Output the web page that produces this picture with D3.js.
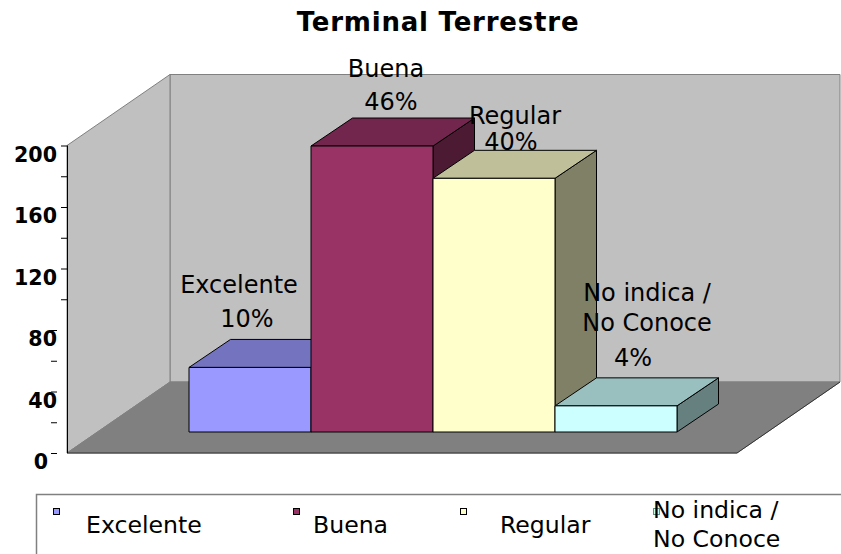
<!DOCTYPE html>
<html>
<head>
<meta charset="utf-8">
<script src="https://cdn.jsdelivr.net/npm/d3@7"></script>
<style>
    html, body { margin: 0; padding: 0; background: #fff; overflow: hidden; }
    svg { display: block; }
    text { font-family: "DejaVu Sans", sans-serif; fill: #000; }
</style>
</head>
<body>
<div id="chart"></div>
<script>
// Data
var categories = ["Excelente", "Buena", "Regular", "No indica / No Conoce"];
var values = [42, 186, 165, 17];
var percents = ["10%", "46%", "40%", "4%"];
var tickValues = [0, 20, 40, 60, 80, 100, 120, 140, 160, 180, 200];
var labelledTicks = [0, 40, 80, 120, 160, 200];
var title = "Terminal Terrestre";

var colors = ["#9999ff", "#993366", "#ffffcc", "#ccffff"];

var width = 841, height = 554;

var svg = d3.select("#chart").append("svg")
    .attr("width", width)
    .attr("height", height);

var polyLine = d3.line();

// Box geometry
var axisX = 67;
var wallX = 170;
var wallDepth = 71;
var floorRight = 737;

var y = d3.scaleLinear().domain([0, 200]).range([453, 145.5]);

// Bars sit on the floor, a little behind the front edge
var barBase = 432;
var barDx = 41.5, barDy = 28;
var x = d3.scaleBand().domain(categories).range([189, 677]);

function barHeight(v) { return y(0) - y(v); }

function shade(c, k) {
    var r = d3.rgb(c);
    return d3.rgb(r.r * k, r.g * k, r.b * k).formatHex();
}

// Walls and floor
var box = svg.append("g");
var wallRight = wallX + (floorRight - axisX);

box.append("path")
    .attr("d", polyLine([[wallX, y(200) - wallDepth], [wallRight, y(200) - wallDepth], [wallRight, y(0) - wallDepth], [wallX, y(0) - wallDepth]]) + "Z")
    .attr("fill", "#c0c0c0")
    .attr("stroke", "#808080");

box.append("path")
    .attr("d", polyLine([[axisX, y(200)], [wallX, y(200) - wallDepth], [wallX, y(0) - wallDepth], [axisX, y(0)]]) + "Z")
    .attr("fill", "#c0c0c0")
    .attr("stroke", "#808080");

box.append("path")
    .attr("d", polyLine([[axisX, y(0)], [wallX, y(0) - wallDepth], [wallRight, y(0) - wallDepth], [floorRight, y(0)]]) + "Z")
    .attr("fill", "#808080")
    .attr("stroke", "#808080");

box.append("path")
    .attr("d", polyLine([[axisX, y(0)], [floorRight, y(0)], [wallRight, y(0) - wallDepth]]))
    .attr("fill", "none")
    .attr("stroke", "#333");

// Bars, left to right so that each one hides the side of the previous one
var bars = svg.append("g").selectAll("g")
    .data(categories)
    .enter()
    .append("g")
    .attr("stroke", "#000")
    .attr("stroke-linejoin", "round");

bars.append("path")
    .attr("fill", function (d, i) { return shade(colors[i], 0.5); })
    .attr("d", function (d, i) {
        var r = x(d) + x.bandwidth(), t = barBase - barHeight(values[i]);
        return polyLine([[r, t], [r + barDx, t - barDy], [r + barDx, barBase - barDy], [r, barBase]]) + "Z";
    });

bars.append("path")
    .attr("fill", function (d, i) { return shade(colors[i], 0.75); })
    .attr("d", function (d, i) {
        var l = x(d), r = l + x.bandwidth(), t = barBase - barHeight(values[i]);
        return polyLine([[l, t], [l + barDx, t - barDy], [r + barDx, t - barDy], [r, t]]) + "Z";
    });

bars.append("rect")
    .attr("fill", function (d, i) { return colors[i]; })
    .attr("x", function (d) { return x(d); })
    .attr("y", function (d, i) { return barBase - barHeight(values[i]); })
    .attr("width", x.bandwidth())
    .attr("height", function (d, i) { return barHeight(values[i]); });

// Value axis. Ticks of 80 and below are pushed left, as in the reference
var axis = svg.append("g")
    .attr("transform", "translate(" + axisX + ",0)")
    .call(d3.axisLeft(y)
        .tickValues(tickValues)
        .tickSize(6)
        .tickPadding(4)
        .tickFormat(function (d) { return labelledTicks.indexOf(d) >= 0 ? d : ""; }));

axis.select(".domain").attr("stroke", "#000").attr("d", "M0.5," + y(200) + "V" + y(0));
axis.selectAll(".tick line")
    .attr("stroke", "#000")
    .attr("transform", function (d) { return d <= 80 ? "translate(-10,0)" : null; });
axis.selectAll(".tick text")
    .attr("font-size", 20.6)
    .attr("font-weight", "bold")
    .attr("font-family", "DejaVu Sans")
    .attr("dy", "15.5px")
    .attr("dx", function (d) { return d == 0 ? -9 : 0; });

// Title
svg.append("text")
    .attr("x", 438)
    .attr("y", 31)
    .attr("text-anchor", "middle")
    .attr("font-size", 26)
    .attr("letter-spacing", 0.8)
    .attr("font-weight", "bold")
    .text(title);

// Data labels, offsets measured from the centre of the bar top
var labelLayout = [
    [{ t: "Excelente", dx: -11, dy: -74.5 }, { t: percents[0], dx: -3, dy: -40.5 }],
    [{ t: "Buena", dx: 14, dy: -69 }, { t: percents[1], dx: 19, dy: -36 }],
    [{ t: "Regular", dx: 21, dy: -54.5 }, { t: percents[2], dx: 17, dy: -28.5 }],
    [{ t: "No indica /", dx: 31, dy: -105 }, { t: "No Conoce", dx: 31, dy: -75 }, { t: percents[3], dx: 17, dy: -40 }]
];

categories.forEach(function (c, i) {
    var cx = x(c) + x.bandwidth() / 2;
    var top = barBase - barHeight(values[i]);
    labelLayout[i].forEach(function (l) {
        svg.append("text")
            .attr("x", cx + l.dx)
            .attr("y", top + l.dy)
            .attr("text-anchor", "middle")
            .attr("font-size", 24)
            .text(l.t);
    });
});

// Legend, its box runs off the right and bottom of the picture
var legend = svg.append("g");

legend.append("path")
    .attr("d", "M36.5," + height + "V494.5H" + width)
    .attr("fill", "none")
    .attr("stroke", "#808080")
    .attr("stroke-width", 1.5);

var legendX = [53, 293, 460, 653];
var legendTextX = [86, 313, 500, 653];

categories.forEach(function (c, i) {
    legend.append("rect")
        .attr("x", legendX[i] + 0.5)
        .attr("y", 508.5)
        .attr("width", 6)
        .attr("height", 6)
        .attr("fill", colors[i])
        .attr("stroke", i == 3 ? "#5f8f8f" : "#000");

    if (i < 3) {
        legend.append("text")
            .attr("x", legendTextX[i])
            .attr("y", 533)
            .attr("font-size", 23.6)
            .text(c);
    }
});

legend.append("text").attr("x", legendTextX[3]).attr("y", 518).attr("font-size", 23.6).text("No indica /");
legend.append("text").attr("x", legendTextX[3]).attr("y", 547).attr("font-size", 23.6).text("No Conoce");
</script>
</body>
</html>
